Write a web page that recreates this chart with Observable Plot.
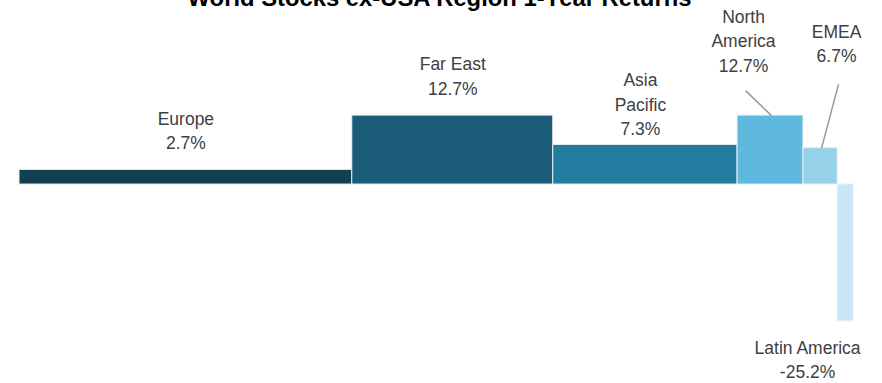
<!DOCTYPE html>
<html>
<head>
<meta charset="utf-8">
<script src="https://cdn.jsdelivr.net/npm/d3@7"></script>
<script src="https://cdn.jsdelivr.net/npm/@observablehq/plot@0.6"></script>
<style>
  html, body { margin: 0; padding: 0; background: #fff; }
  #chart svg { display: block; }
</style>
</head>
<body>
<div id="chart"></div>
<script>
// ---- data ----
const regions = ["Europe", "Far East", "Asia Pacific", "North America", "EMEA", "Latin America"];
const labels  = ["Europe", "Far East", "Asia\nPacific", "North\nAmerica", "EMEA", "Latin America"];
const returns = [2.7, 12.7, 7.3, 12.7, 6.7, -25.2];       // 1-year return, %
const weights = [39.9, 24.1, 22.1, 7.9, 4.1, 1.9];         // region weight (bar width), %
const colors  = ["#143f50", "#1b5c78", "#227ca0", "#5fb8de", "#96d1ea", "#c8e6f3"];
const title   = "World Stocks ex-USA Region 1-Year Returns";

// ---- build table ----
let acc = 0;
const rows = regions.map((r, i) => {
  const x1 = acc; acc += weights[i];
  return {region: r, label: labels[i] + "\n" + returns[i].toFixed(1) + "%", value: returns[i],
          x1, x2: acc, xc: (x1 + acc) / 2, color: colors[i]};
});
const total = acc;

// ---- layout ----
const W = 882, H = 383;
const xRange = [19, 853];
const yDomain = [-36.65, 33.9];
const xs = Plot.scale({x: {domain: [0, total], range: xRange}});
const ys = Plot.scale({y: {domain: yDomain, range: [H, 0]}});

// label offsets in pixels (layout)
const labelLayout = {
  "Europe":        {dx: 0,   dy: -21, anchor: "bottom"},
  "Far East":      {dx: 0,   dy: -21, anchor: "bottom"},
  "Asia Pacific":  {dx: -5,  dy: -10, anchor: "bottom"},
  "North America": {dx: -27, dy: -44, anchor: "bottom"},
  "EMEA":          {dx: 16,  dy: -86, anchor: "bottom"},
  "Latin America": {dx: -38, dy: 15,  anchor: "top"}
};
// leader lines: from bar top (pixel offset) to label (pixel offset)
const leaders = [
  {region: "North America", sx: 1,  ex: -26, ey: -25},
  {region: "EMEA",          sx: 1,  ex: 17,  ey: -64}
];
const leaderRows = leaders.map(l => {
  const r = rows.find(d => d.region === l.region);
  const px = xs.apply(r.xc) + l.sx, py = ys.apply(r.value);
  return {x1: xs.invert(px), y1: ys.invert(py), x2: xs.invert(px + l.ex), y2: ys.invert(py + l.ey)};
});

const font = "'Liberation Sans', Arial, sans-serif";

const textMarks = rows.map(r => {
  const L = labelLayout[r.region];
  return Plot.text([r], {
    x: "xc", y: "value", text: "label",
    dx: L.dx, dy: L.dy, lineAnchor: L.anchor, textAnchor: "middle",
    fontSize: 17.5, lineHeight: 1.39, fill: "#404040", fontFamily: font
  });
});

const chart = Plot.plot({
  width: W, height: H,
  marginLeft: xRange[0], marginRight: W - xRange[1], marginTop: 0, marginBottom: 0,
  x: {domain: [0, total], axis: null},
  y: {domain: yDomain, axis: null},
  style: {fontFamily: font, background: "#fff", overflow: "visible"},
  marks: [
    Plot.rect(rows, {x1: "x1", x2: "x2", y1: 0, y2: "value", fill: "color",
                     stroke: "#e8f0f4", strokeWidth: 1}),
    Plot.link(leaderRows, {x1: "x1", y1: "y1", x2: "x2", y2: "y2", stroke: "#9a9a9a", strokeWidth: 1.5}),
    ...textMarks,
    Plot.text([title], {frameAnchor: "top", text: d => d, lineAnchor: "bottom", dx: 3, dy: 5,
                        fontSize: 23.8, fontWeight: "bold", fill: "#000", fontFamily: font})
  ]
});
chart.style.overflow = "hidden";
document.getElementById("chart").append(chart);
</script>
</body>
</html>
